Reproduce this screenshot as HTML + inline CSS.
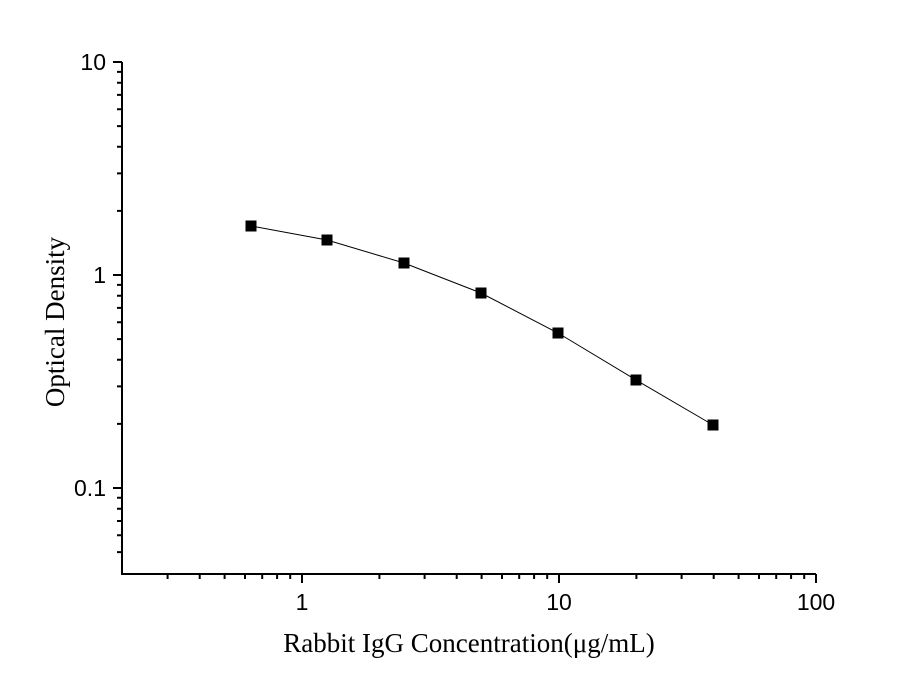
<!DOCTYPE html>
<html><head><style>body{margin:0;background:#fff}</style></head><body>
<svg width="908" height="691" xmlns="http://www.w3.org/2000/svg" font-family="Liberation Sans, sans-serif">
<rect width="908" height="691" fill="#fff"/>
<g stroke="#000" stroke-width="2" fill="none">
<path d="M122 62V575M121 574H816"/>
<path d="M113 62H122M113 275H122M113 488H122"/>
<path d="M117 71.9H122M117 82.7H122M117 94.9H122M117 109.2H122M117 126.1H122M117 146.8H122M117 173.4H122M117 210.9H122M117 284.9H122M117 295.7H122M117 307.9H122M117 322.2H122M117 339.1H122M117 359.8H122M117 386.4H122M117 423.9H122M117 497.7H122M117 508.7H122M117 521H122M117 535.3H122M117 552.1H122"/>
<path d="M302 574V583M559 574V583M816 574V583"/>
<path d="M167.6 574V579M199.7 574V579M224.6 574V579M245 574V579M262.2 574V579M277.1 574V579M290.2 574V579M379.4 574V579M424.6 574V579M456.7 574V579M481.6 574V579M502 574V579M519.2 574V579M534.1 574V579M547.2 574V579M636.4 574V579M681.6 574V579M713.7 574V579M738.6 574V579M759 574V579M776.2 574V579M791.1 574V579M804.2 574V579"/>
</g>
<g font-size="23" fill="#000">
<text x="106" y="70" text-anchor="end">10</text>
<text x="106" y="283" text-anchor="end">1</text>
<text x="106" y="496" text-anchor="end">0.1</text>
<text x="302" y="610" text-anchor="middle">1</text>
<text x="559" y="610" text-anchor="middle">10</text>
<text x="816" y="610" text-anchor="middle">100</text>
</g>
<g font-family="Liberation Serif, serif" font-size="27" fill="#000">
<text x="469" y="652" text-anchor="middle">Rabbit IgG Concentration(μg/mL)</text>
<text transform="translate(64,322) rotate(-90)" text-anchor="middle">Optical Density</text>
</g>
<polyline fill="none" stroke="#000" stroke-width="1" points="251,226 327,240 404,263 481,293 558,333 636,380 713,425"/>
<g fill="#000">
<rect x="245.5" y="220.5" width="11" height="11"/>
<rect x="321.5" y="234.5" width="11" height="11"/>
<rect x="398.5" y="257.5" width="11" height="11"/>
<rect x="475.5" y="287.5" width="11" height="11"/>
<rect x="552.5" y="327.5" width="11" height="11"/>
<rect x="630.5" y="374.5" width="11" height="11"/>
<rect x="707.5" y="419.5" width="11" height="11"/>
</g>
</svg>
</body></html>
